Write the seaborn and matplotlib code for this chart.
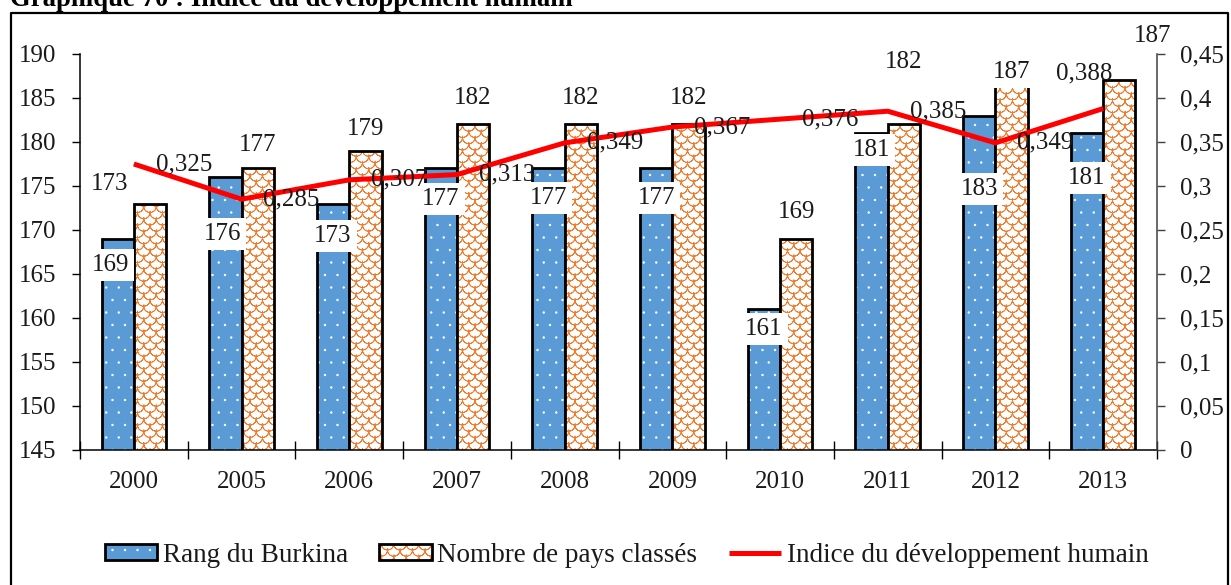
import numpy as np
import pandas as pd
import matplotlib
matplotlib.use("Agg")
import matplotlib.pyplot as plt
from matplotlib import hatch as mhatch
from matplotlib.path import Path
from matplotlib.lines import Line2D
from matplotlib.colors import to_rgba
import seaborn as sns

# ---- data -----------------------------------------------------------------
years = ["2000", "2005", "2006", "2007", "2008", "2009", "2010", "2011", "2012", "2013"]
rang_burkina = [169, 176, 173, 177, 177, 177, 161, 181, 183, 181]
pays_classes = [173, 177, 179, 182, 182, 182, 169, 182, 187, 187]
idh = [0.325, 0.285, 0.307, 0.313, 0.349, 0.367, 0.376, 0.385, 0.349, 0.388]
series_names = ["Rang du Burkina", "Nombre de pays classés",
                "Indice du développement humain"]
left_ticks = [145, 150, 155, 160, 165, 170, 175, 180, 185, 190]
right_ticks = [0, 0.05, 0.1, 0.15, 0.2, 0.25, 0.3, 0.35, 0.4, 0.45]
title = "Graphique 70 : Indice du développement humain"

# label nudges (points) so that labels keep clear of the line
rang_label_dx = [-5, -2, 0, 0, 0, 0, 0, 0, 0, 0]
rang_label_dy = [-19, -41, -23, -22, -21, -21, -14, -12, -53, -32]
pays_label_dy = [14, 17, 16, 19, 19, 19, 19, 45, 6, 32]
pays_label_dx = [-29, 0, 0, 0, 0, 0, 0, 0, 0, 24]
idh_label_dx = [36, 36, 36, 36, 36, 36, 36, 36, 36, -14]
idh_label_dy = [0, 0, 0, 0, 0, 0, 0, 0, 0, 25]

BLUE = "#5B9BD5"
ORANGE = "#ED7D31"
FS = 18


# ---- custom hatches: fish scales ('o') and fine dots ('.') ------------------
class ScaleHatch(mhatch.HatchPatternBase):
    """Rows of open half-circle arcs, offset every other row."""

    def __init__(self, hatch, density):
        self.num_cols = 8 if "o" in hatch else 0
        arc = Path.arc(180, 360)
        fwd_v = arc.vertices
        fwd_c = arc.codes.copy()
        # forward then exactly backward: zero-area outline that only strokes
        back_v = fwd_v[::-1][1:]
        back_c = np.full(len(back_v), Path.CURVE4, dtype=fwd_c.dtype)
        self.shape_vertices = np.concatenate([fwd_v, back_v])
        self.shape_codes = np.concatenate([fwd_c, back_c])
        n = self.num_cols
        self.num_vertices = 0 if n == 0 else (2 * n + 1) * (n + 2) * len(self.shape_vertices)

    def set_vertices_and_codes(self, vertices, codes):
        n = self.num_cols
        step = 1.0 / n
        r = step / 2
        shape = self.shape_vertices * r
        vparts, cparts = [], []
        for row in range(2 * n + 1):
            shift = 0.0 if row % 2 == 0 else r
            y = row * r
            for col in range(n + 2):
                x = (col - 0.5) * step + shift
                vparts.append(shape + [x, y])
                cparts.append(self.shape_codes)
        np.concatenate(vparts, out=vertices)
        np.concatenate(cparts, out=codes)


class FineDots(mhatch.SmallFilledCircles):
    size = 0.06

    def __init__(self, hatch, density):
        self.num_rows = 8 if "." in hatch else 0
        mhatch.Circles.__init__(self, hatch, density)


mhatch._hatch_types = [
    ScaleHatch if t is mhatch.SmallCircles else FineDots if t is mhatch.SmallFilledCircles else t
    for t in mhatch._hatch_types
]

# ---- style ------------------------------------------------------------------
sns.set_theme(style="white")
plt.rcParams["font.family"] = ["Liberation Serif", "DejaVu Serif"]
plt.rcParams["hatch.linewidth"] = 0.6

W, H = 1231, 585
fig = plt.figure(figsize=(W / 100, H / 100), dpi=100)
fig.patch.set_facecolor("white")
ax = fig.add_axes([80 / W, 135 / H, 1077 / W, 396 / H])

df = pd.DataFrame({
    "Année": years * 2,
    "Valeur": rang_burkina + pays_classes,
    "Série": [series_names[0]] * len(years) + [series_names[1]] * len(years),
})
sns.barplot(data=df, x="Année", y="Valeur", hue="Série",
            hue_order=series_names[:2], palette=[BLUE, "white"],
            width=0.6, saturation=1, edgecolor="black", linewidth=2,
            errorbar=None, legend=False, ax=ax)

rang_bars, pays_bars = ax.containers[0], ax.containers[1]
for p in rang_bars:
    p.set_hatch(".")
    p._hatch_color = to_rgba("white")
for p in pays_bars:
    p.set_hatch("o")
    p._hatch_color = to_rgba(ORANGE)

ax.set_ylim(left_ticks[0], left_ticks[-1])
ax.set_yticks(left_ticks)
ax.set_xlim(-0.5, len(years) - 0.5)
ax.set_xlabel("")
ax.set_ylabel("")

# category separators as crossing ticks, year labels centred on categories
ax.set_xticks(np.arange(-0.5, len(years), 1))
ax.set_xticklabels([])
ax.set_xticks(np.arange(len(years)), minor=True)
ax.set_xticklabels(years, minor=True)
ax.tick_params(axis="x", which="major", direction="inout", length=13, width=1,
               color="black", bottom=True)
ax.tick_params(axis="x", which="minor", length=0, pad=15, labelsize=FS,
               labelcolor="#1a1a1a", bottom=True)
ax.tick_params(axis="y", direction="out", length=5.8, width=1, pad=11,
               labelsize=FS, labelcolor="#1a1a1a", color="black", left=True)
for side in ("top", "right"):
    ax.spines[side].set_visible(False)
for side in ("left", "bottom"):
    ax.spines[side].set_color("black")
    ax.spines[side].set_linewidth(1.1)

# ---- secondary axis: HDI line ------------------------------------------------
ax2 = ax.twinx()
ax2.set_position([80 / W, 135 / H, 1077 / W, 396 / H])
sns.lineplot(x=np.arange(len(years)), y=idh, ax=ax2, color="#FF0000",
             linewidth=3.6, solid_capstyle="butt")
ax2.set_ylim(right_ticks[0], right_ticks[-1])
ax2.set_yticks(right_ticks)
ax2.set_yticklabels([f"{v:g}".replace(".", ",") for v in right_ticks])
ax2.tick_params(axis="y", direction="out", length=5.8, width=1, pad=11,
                labelsize=FS, labelcolor="#1a1a1a", color="#404040", right=True)
ax2.set_xlim(-0.5, len(years) - 0.5)
ax2.set_ylabel("")
for side in ("top", "left", "bottom"):
    ax2.spines[side].set_visible(False)
ax2.spines["right"].set_color("#404040")
ax2.spines["right"].set_linewidth(1.1)

# ---- data labels --------------------------------------------------------------
box = dict(boxstyle="square,pad=0.2", fc="white", ec="none")
for i, (pr, pn) in enumerate(zip(rang_bars, pays_bars)):
    xr = pr.get_x() + pr.get_width() / 2
    ax2.annotate(str(rang_burkina[i]), xy=(xr, rang_burkina[i]), xycoords=ax.transData,
                 xytext=(rang_label_dx[i], rang_label_dy[i]), textcoords="offset points",
                 ha="center", va="center", fontsize=FS, color="#1a1a1a", bbox=box)
    xn = pn.get_x() + pn.get_width() / 2
    ax2.annotate(str(pays_classes[i]), xy=(xn, pays_classes[i]), xycoords=ax.transData,
                 xytext=(pays_label_dx[i], pays_label_dy[i]), textcoords="offset points",
                 ha="center", va="center", fontsize=FS, color="#1a1a1a", bbox=box)
for i, v in enumerate(idh):
    ax2.annotate(f"{v:.3f}".replace(".", ","), xy=(i, v),
                 xytext=(idh_label_dx[i], idh_label_dy[i]), textcoords="offset points",
                 ha="center", va="center", fontsize=FS, color="#1a1a1a")

# ---- legend ---------------------------------------------------------------------
line_handle = ax2.get_lines()[0]
fig.legend([rang_bars[0], pays_bars[0], line_handle], series_names,
           loc="center", bbox_to_anchor=(0.509, 1 - 555 / H), ncol=3,
           frameon=False, fontsize=19.5, handlelength=1.95, handleheight=0.55,
           handletextpad=0.2, columnspacing=1.15, labelcolor="#1a1a1a")

# ---- chart frame and caption ------------------------------------------------------
fig.add_artist(Line2D([11 / W, 11 / W, 1228 / W, 1228 / W],
                      [0, 1 - 13 / H, 1 - 13 / H, 0],
                      transform=fig.transFigure, color="black", linewidth=1.6))
fig.text(10 / W, 1 - 6 / H, title, fontsize=19.3, fontweight="bold",
         ha="left", va="baseline", color="black")

fig.savefig("out.png", dpi=100, facecolor="white")
